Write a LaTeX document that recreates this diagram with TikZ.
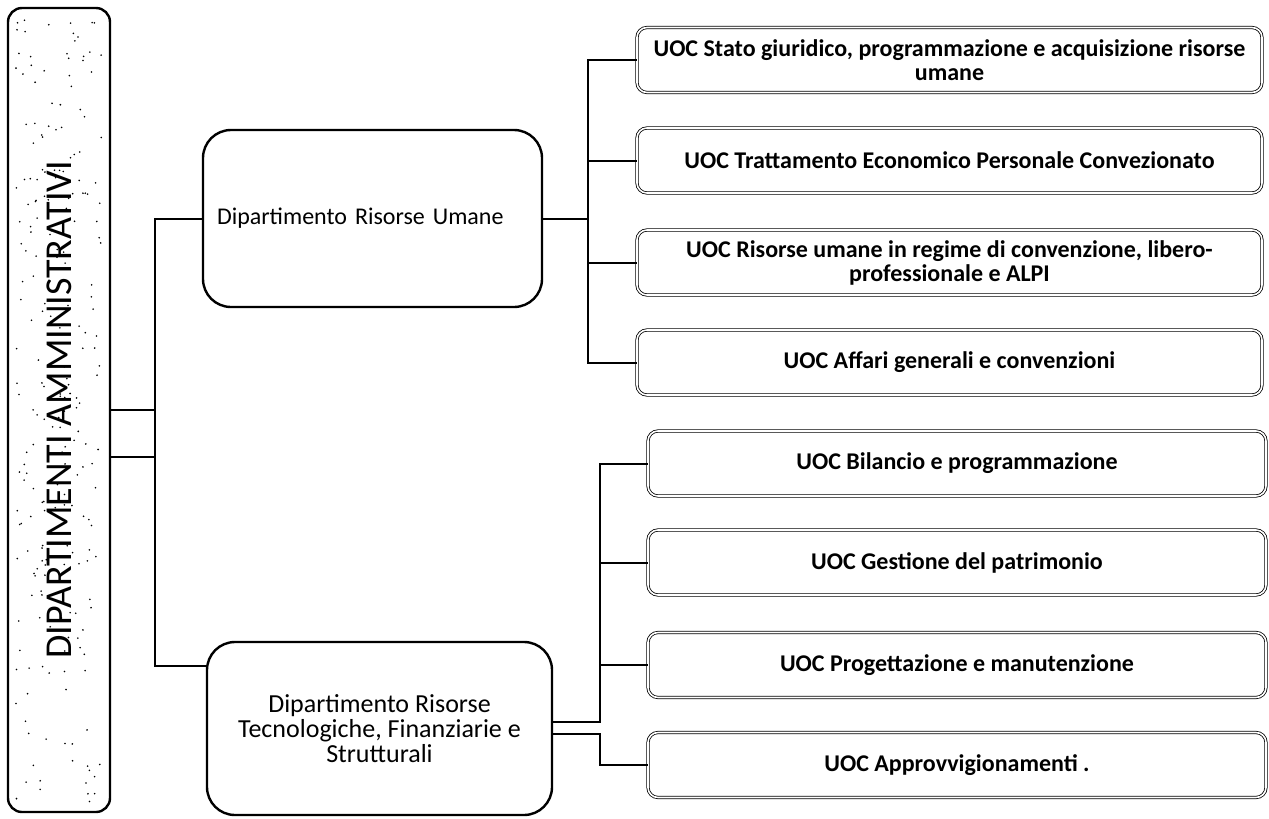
\documentclass[tikz,border=0pt]{standalone}
\usepackage{fontspec}
\setmainfont{Carlito}
\usepackage{graphicx}
\usepackage{tikz}
\usetikzlibrary{calc}
\tikzset{
  conn/.style={draw=black, line width=2pt, line join=miter},
  outer/.style={draw=black, line width=2.4pt, rounded corners=14pt, minimum width=102pt, minimum height=804pt, inner sep=0pt},
  dept/.style={draw=black, line width=2.4pt, rounded corners=28pt, inner sep=0pt},
  uoc/.style={draw=black, double, double distance=1.6pt, line width=0.8pt, rounded corners=10pt,
    inner sep=0pt, align=center, font=\bfseries\fontsize{24}{24}\selectfont},
  dot/.style={fill=black},
}
\begin{document}
\begin{tikzpicture}[x=1pt,y=-1pt]
  \useasboundingbox (0,0) rectangle (1269,819);
  % stipple of the outer box
  \pgfmathsetseed{11}
  \foreach \k in {1,...,230}{
    \pgfmathsetmacro{\px}{16+86*rnd}
    \pgfmathsetmacro{\py}{18+784*rnd}
    \fill[dot] (\px,\py) circle (0.9);
  }
  \node[outer] (adm) at (59,410) {\rotatebox{90}{\fontsize{38}{40}\selectfont DIPARTIMENTI AMMINISTRATIVI}};
  \node[dept, minimum width=339pt, minimum height=177pt, text width=311pt, align=left,
    font=\fontsize{24}{26}\selectfont] (dru) at (372.5,218.5) {Dipartimento Risorse Umane};
  \node[dept, minimum width=345pt, minimum height=173pt, align=center,
    font=\fontsize{26}{25}\selectfont] (dtf) at (379.5,728.5)
    {Dipartimento Risorse\\Tecnologiche, Finanziarie e\\Strutturali};
  % upper UOC boxes
  \foreach \n/\y/\txt in {u1/60/{UOC Stato giuridico, programmazione e acquisizione risorse\\umane},
      u2/160.5/{UOC Trattamento Economico Personale Convezionato},
      u3/262.5/{UOC Risorse umane in regime di convenzione, libero-\\professionale e ALPI},
      u4/362.5/{UOC Affari generali e convenzioni}}
    \node[uoc, minimum width=625pt, minimum height=65pt] (\n) at (949.5,\y) {\txt};
  % lower UOC boxes
  \foreach \n/\y/\txt in {t1/463.5/{UOC Bilancio e programmazione},
      t2/562.5/{UOC Gestione del patrimonio},
      t3/665/{UOC Progettazione e manutenzione},
      t4/765/{UOC Approvvigionamenti .}}
    \node[uoc, minimum width=618pt, minimum height=65pt] (\n) at (957,\y) {\txt};
  % connectors
  \coordinate (lbus) at (155,0);
  \coordinate (ubus) at (588,0);
  \coordinate (tbus) at (600,0);
  \coordinate (adm2) at ($(adm.east)+(0,47)$);
  \coordinate (dtfin) at ($(dtf.north west)!0.145!(dtf.south west)$);
  \draw[conn] (adm.east) -- (lbus |- adm.east);
  \draw[conn] (adm2) -- (lbus |- adm2);
  \draw[conn] (dru.west) -| (lbus |- dtfin) -- (dtfin);
  \draw[conn] (dru.east) -- (ubus |- dru.east);
  \draw[conn] (u1.west) -| (ubus |- u4.west) -- (u4.west);
  \foreach \n in {u2,u3}
    \draw[conn] (ubus |- \n.west) -- (\n.west);
  \coordinate (dtfa) at ($(dtf.east)+(0,-7)$);
  \coordinate (dtfb) at ($(dtf.east)+(0,5)$);
  \draw[conn] (dtfa) -| (tbus |- t1.west) -- (t1.west);
  \foreach \n in {t2,t3}
    \draw[conn] (tbus |- \n.west) -- (\n.west);
  \draw[conn] (dtfb) -| (tbus |- t4.west) -- (t4.west);
\end{tikzpicture}
\end{document}
